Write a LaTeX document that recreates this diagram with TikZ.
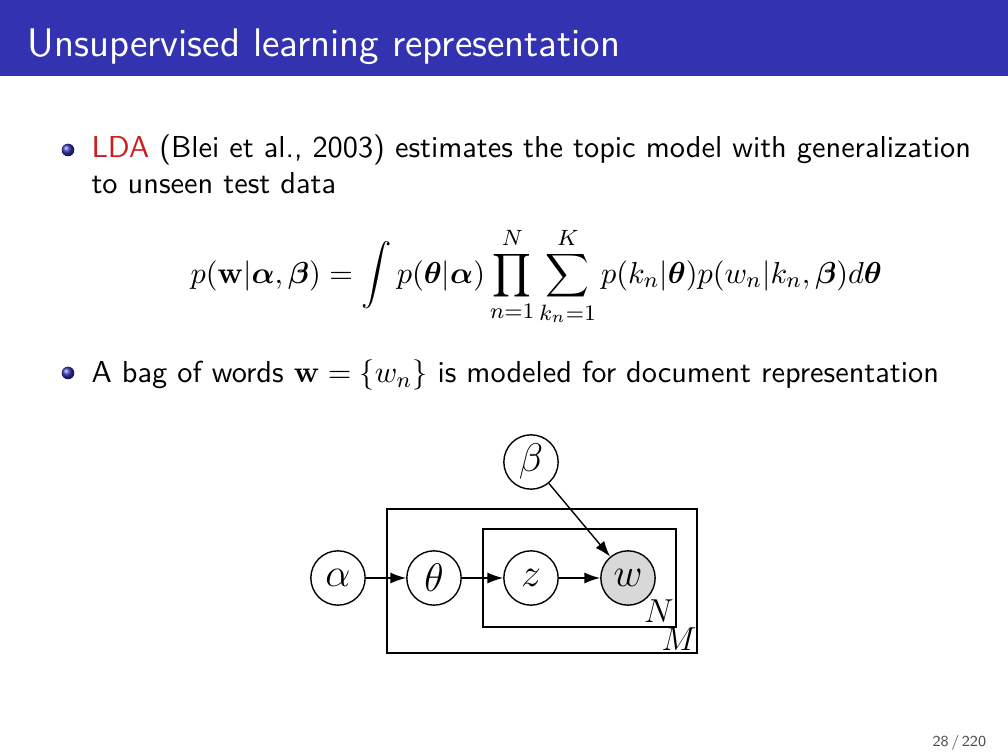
\documentclass[tikz,border=0pt]{standalone}
\usepackage{amsmath,bm}
\usetikzlibrary{arrows.meta}
\definecolor{barblue}{RGB}{51,51,178}
\definecolor{alertred}{RGB}{205,30,30}
\definecolor{wgray}{RGB}{216,216,216}
\begin{document}
\begin{tikzpicture}[x=0.12698mm,y=-0.12698mm,
  font=\fontsize{10.95}{13.6}\selectfont\sffamily,
  txt/.style={anchor=base west,inner sep=0pt},
  var/.style={circle,draw,line width=0.5pt,minimum size=6.9mm,inner sep=0pt,font=\fontsize{14}{16}\selectfont},
  obs/.style={var,fill=wgray},
  arr/.style={-{Latex[length=2mm,width=1.4mm]},line width=0.5pt},
  plate/.style={draw,line width=0.5pt},
  platelab/.style={font=\fontsize{11.5}{14}\selectfont,inner sep=0pt},
  bullet/.style={circle,inner sep=0pt,minimum size=1.6mm,ball color=barblue,shading=ball}]
\useasboundingbox (0,0) rectangle (1008,756);
\fill[white] (0,0) rectangle (1008,756);
\fill[barblue] (0,0) rectangle (1008,76);
\node[txt,text=white,font=\fontsize{14.4}{17}\selectfont\sffamily] (title) at (27,57) {Unsupervised learning representation};
% bullet 1
\node[bullet] (b1) at (68,150) {};
\node[txt] (l1) at (91,158) {\textcolor{alertred}{LDA} (Blei et al., 2003) estimates the topic model with generalization};
\node[txt] (l2) at (91,194) {to unseen test data};
\node[txt] (eq) at (190,283) {$\displaystyle p(\mathbf{w}|\bm{\alpha},\bm{\beta}) = \int p(\bm{\theta}|\bm{\alpha}) \prod_{n=1}^{N} \sum_{k_n=1}^{K} p(k_n|\bm{\theta})p(w_n|k_n,\bm{\beta})d\bm{\theta}$};
% bullet 2
\node[bullet] (b2) at (68,373) {};
\node[txt] (l3) at (91,383) {A bag of words $\mathbf{w}=\{w_n\}$ is modeled for document representation};
% graphical model
\draw[plate] (387,509) rectangle (697,653);
\draw[plate] (483,529) rectangle (676,627);
\node[var] (alpha) at (338,578) {$\alpha$};
\node[var] (theta) at (434,578) {$\theta$};
\node[var] (z) at (531,578) {$z$};
\node[obs] (w) at (628,578) {$w$};
\node[var] (beta) at (531,462) {$\beta$};
\node[platelab] (Nlab) at (659,611) {$N$};
\node[platelab] (Mlab) at (679,639) {$M$};
\draw[arr] (alpha) -- (theta);
\draw[arr] (theta) -- (z);
\draw[arr] (z) -- (w);
\draw[arr] (beta) -- (w);
% page number
\node[txt,text=black!70,font=\fontsize{5.5}{7}\selectfont\sffamily] (page) at (932,746) {28\,/\,220};
\end{tikzpicture}
\end{document}
